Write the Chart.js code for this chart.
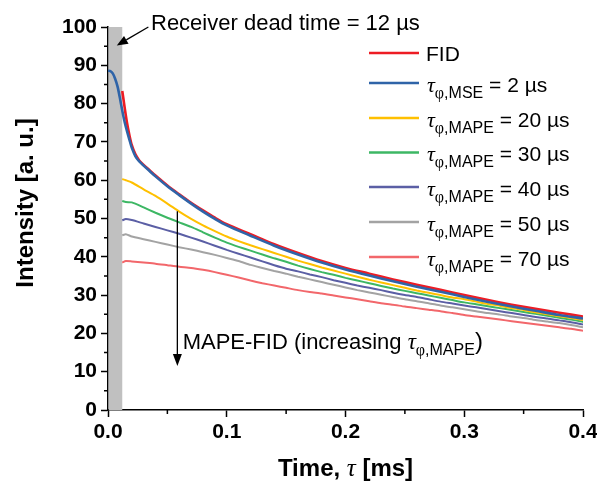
<!DOCTYPE html>
<html><head><meta charset="utf-8">
<script src="https://cdn.jsdelivr.net/npm/chart.js@4/dist/chart.umd.min.js"></script>
<style>html,body{margin:0;padding:0;background:#fff;}canvas{display:block;}</style>
</head><body>
<canvas id="c" width="597" height="485"></canvas>
<script>
// ---------- data ----------
const deadTime = 0.012; // ms, receiver dead time
const xTicks = [0, 0.1, 0.2, 0.3, 0.4];
const yTicks = [0, 10, 20, 30, 40, 50, 60, 70, 80, 90, 100];

const tFID = [0.012,0.013,0.014,0.016,0.018,0.02,0.023,0.026,0.028,0.03,0.035,0.04,0.05,0.06,0.07,0.08,0.09,0.1,0.12,0.14,0.16,0.18,0.2,0.22,0.24,0.26,0.28,0.3,0.32,0.34,0.36,0.38,0.4];
const vFID = [83.3,81.2,79.0,75.0,71.8,69.2,66.8,65.3,64.6,64.0,62.6,61.2,58.6,56.3,54.1,52.1,50.2,48.5,45.9,43.3,41.0,38.9,37.1,35.6,34.1,32.7,31.4,30.0,28.7,27.5,26.4,25.4,24.4];

const tMSE = [0,0.002,0.004,0.006,0.008,0.01,0.012,0.014,0.016,0.018,0.02,0.023,0.026,0.028,0.03,0.035,0.04,0.05,0.06,0.07,0.08,0.09,0.1,0.12,0.14,0.16,0.18,0.2,0.22,0.24,0.26,0.28,0.3,0.32,0.34,0.36,0.38,0.4];
const vMSE = [88.6,88.5,87.9,86.5,84.5,81.5,78.2,75.2,72.8,70.6,68.5,66.3,65.0,64.4,63.8,62.4,61.0,58.4,56.1,53.9,51.8,49.9,48.2,45.5,42.9,40.6,38.5,36.7,35.1,33.6,32.2,30.9,29.5,28.2,27.0,25.9,24.8,23.9];

const tMAPE = [0.012,0.015,0.02,0.03,0.04,0.05,0.06,0.07,0.08,0.09,0.1,0.11,0.12,0.13,0.14,0.15,0.16,0.17,0.18,0.19,0.2,0.21,0.22,0.23,0.24,0.25,0.26,0.27,0.28,0.29,0.3,0.31,0.32,0.33,0.34,0.35,0.36,0.37,0.38,0.39,0.4];
const vMAPE20 = [60.3,60.0,59.4,57.6,55.9,53.9,51.8,49.9,48.2,46.7,45.3,44.1,43.0,42.0,41.0,40.0,39.0,38.1,37.2,36.4,35.6,34.8,34.0,33.3,32.6,31.9,31.2,30.6,30.0,29.4,28.9,28.3,27.7,27.2,26.6,26.1,25.5,25.0,24.5,24.0,23.5];
const vMAPE30 = [54.6,54.3,54.2,52.9,51.5,50.2,49.0,47.8,46.4,45.0,43.7,42.6,41.6,40.6,39.6,38.7,37.7,36.8,36.0,35.3,34.5,33.8,33.1,32.4,31.7,31.1,30.5,29.9,29.3,28.7,28.1,27.6,27.1,26.6,26.1,25.6,25.1,24.6,24.1,23.6,23.0];
const vMAPE40 = [49.5,49.9,49.6,48.7,47.8,46.9,46.0,45.0,44.0,42.9,41.8,40.8,39.8,38.8,37.8,36.9,36.2,35.4,34.7,33.9,33.2,32.5,31.9,31.3,30.6,30.0,29.5,28.9,28.3,27.8,27.3,26.8,26.3,25.8,25.3,24.8,24.3,23.9,23.4,22.9,22.3];
const vMAPE50 = [45.6,45.9,45.3,44.6,43.9,43.2,42.5,41.9,41.2,40.5,39.7,38.9,37.9,37.1,36.3,35.6,34.8,34.1,33.4,32.7,32.0,31.3,30.7,30.1,29.5,28.9,28.4,27.9,27.3,26.8,26.3,25.8,25.3,24.9,24.4,24.0,23.5,23.1,22.7,22.2,21.6];
const vMAPE70 = [38.5,38.9,38.8,38.5,38.2,37.8,37.4,37.1,36.6,36.0,35.3,34.6,33.8,33.1,32.5,31.9,31.3,30.8,30.4,29.9,29.4,28.9,28.4,27.9,27.5,27.0,26.6,26.2,25.8,25.3,24.8,24.4,24.0,23.6,23.2,22.8,22.4,22.0,21.6,21.2,20.7];

const legendNames = ['FID', null, null, null, null, null, null];
const legendSubs  = [null, 'MSE', 'MAPE', 'MAPE', 'MAPE', 'MAPE', 'MAPE'];
const legendVals  = [null, '2 µs', '20 µs', '30 µs', '40 µs', '50 µs', '70 µs'];

// ---------- styling ----------
const SANS = '"Liberation Sans", Arial, sans-serif';
const SERIF = '"Liberation Serif", "Times New Roman", serif';
const pts = (t, v) => t.map((x, i) => ({x, y: v[i]}));

const datasets = [
  {data: pts(tFID, vFID), borderColor: '#ed1c24', borderWidth: 2.6, tension: 0.3, order: 1},
  {data: pts(tMSE, vMSE), borderColor: '#2f64a8', borderWidth: 2.6, tension: 0.3, order: 0},
  {data: pts(tMAPE, vMAPE20), borderColor: '#ffc000', borderWidth: 2, tension: 0.2, order: 2},
  {data: pts(tMAPE, vMAPE30), borderColor: '#3db764', borderWidth: 2, tension: 0.2, order: 3},
  {data: pts(tMAPE, vMAPE40), borderColor: '#5b5fa5', borderWidth: 2, tension: 0.2, order: 4},
  {data: pts(tMAPE, vMAPE50), borderColor: '#a3a3a3', borderWidth: 2, tension: 0.2, order: 5},
  {data: pts(tMAPE, vMAPE70), borderColor: '#f2676b', borderWidth: 2, tension: 0.2, order: 6}
].map(d => Object.assign({pointRadius: 0, fill: false}, d));

function rich(ctx, parts, x, y) {
  for (const p of parts) {
    ctx.font = p.font;
    ctx.fillText(p.text, x, y + (p.dy || 0));
    x += ctx.measureText(p.text).width;
  }
  return x;
}
function richWidth(ctx, parts) {
  let w = 0;
  for (const p of parts) { ctx.font = p.font; w += ctx.measureText(p.text).width; }
  return w;
}
function tauParts(sub, size, subSize, dy) {
  return [
    {text: 'τ', font: `italic ${size + 1}px ${SERIF}`},
    {text: 'φ', font: `${subSize}px ${SERIF}`, dy},
    {text: ',' + sub, font: `${subSize}px ${SANS}`, dy}
  ];
}
function arrow(ctx, x1, y1, x2, y2, len, half) {
  const a = Math.atan2(y2 - y1, x2 - x1);
  const bx = x2 - len * Math.cos(a), by = y2 - len * Math.sin(a);
  ctx.beginPath(); ctx.moveTo(x1, y1); ctx.lineTo(bx, by); ctx.stroke();
  ctx.beginPath();
  ctx.moveTo(x2, y2);
  ctx.lineTo(bx + half * Math.sin(a), by - half * Math.cos(a));
  ctx.lineTo(bx - half * Math.sin(a), by + half * Math.cos(a));
  ctx.closePath(); ctx.fill();
}

const deco = {
  id: 'deco',
  beforeDatasetsDraw(chart) {
    const {ctx, chartArea: a, scales: {x}} = chart;
    const x0 = x.getPixelForValue(0) + 0.75, x1 = x.getPixelForValue(deadTime);
    ctx.save();
    ctx.fillStyle = '#c0c0c0';
    ctx.fillRect(x0, a.top, x1 - x0, a.bottom - a.top);
    ctx.restore();
  },
  afterDraw(chart) {
    const {ctx, chartArea: a, scales: {x, y}} = chart;
    ctx.save();
    ctx.strokeStyle = '#000'; ctx.fillStyle = '#000'; ctx.lineWidth = 1.5;
    // minor ticks
    ctx.beginPath();
    for (let v = 5; v < 100; v += 10) { const p = y.getPixelForValue(v); ctx.moveTo(a.left, p); ctx.lineTo(a.left - 4, p); }
    for (let v = 0.05; v < 0.4; v += 0.1) { const p = x.getPixelForValue(v); ctx.moveTo(p, a.bottom); ctx.lineTo(p, a.bottom + 4); }
    ctx.stroke();

    // receiver dead time annotation
    ctx.lineWidth = 1.3;
    arrow(ctx, x.getPixelForValue(0.034), y.getPixelForValue(100), x.getPixelForValue(0.0074), y.getPixelForValue(95.2), 11, 4.5);
    ctx.textBaseline = 'alphabetic'; ctx.textAlign = 'left';
    ctx.font = `22px ${SANS}`;
    ctx.fillText('Receiver dead time = 12 µs', x.getPixelForValue(0.0362), y.getPixelForValue(99.2));

    // MAPE-FID arrow + text
    arrow(ctx, x.getPixelForValue(0.0584), y.getPixelForValue(51.9), x.getPixelForValue(0.0584), y.getPixelForValue(11.5), 12, 4.5);
    const ax = x.getPixelForValue(0.0629), ay = y.getPixelForValue(16.0);
    rich(ctx, [{text: 'MAPE-FID (increasing ', font: `22px ${SANS}`}]
      .concat(tauParts('MAPE', 22, 16, 6))
      .concat([{text: ')', font: `24px ${SANS}`}]), ax, ay);

    // legend
    const rowY = [53, 83, 118, 152.5, 187, 222, 257];
    datasets.forEach((d, i) => {
      const ly = rowY[i];
      ctx.strokeStyle = d.borderColor; ctx.lineWidth = 2.5;
      ctx.beginPath(); ctx.moveTo(369, ly); ctx.lineTo(419, ly); ctx.stroke();
      ctx.fillStyle = '#000';
      if (legendNames[i]) {
        rich(ctx, [{text: legendNames[i], font: `21px ${SANS}`}], 426, ly + 7.5);
      } else {
        rich(ctx, tauParts(legendSubs[i], 21, 16, 6).concat([{text: ' = ' + legendVals[i], font: `21px ${SANS}`}]), 427, ly + 8.5);
      }
    });

    // axis titles
    ctx.fillStyle = '#000';
    const xt = [{text: 'Time, ', font: `bold 24px ${SANS}`}, {text: 'τ', font: `italic 25px ${SERIF}`}, {text: ' [ms]', font: `bold 24px ${SANS}`}];
    const w = richWidth(ctx, xt);
    rich(ctx, xt, (a.left + a.right) / 2 - w / 2, 476);
    ctx.translate(26, 203);
    ctx.rotate(-Math.PI / 2);
    ctx.textAlign = 'center'; ctx.textBaseline = 'middle';
    ctx.font = `bold 24px ${SANS}`;
    ctx.fillText('Intensity [a. u.]', 0, 0);
    ctx.restore();
  }
};

const tickFont = {family: SANS, size: 21, weight: 'bold'};
new Chart(document.getElementById('c'), {
  type: 'line',
  data: {datasets},
  options: {
    responsive: false, animation: false, devicePixelRatio: 1,
    layout: {padding: {top: 27, right: 14, left: 0, bottom: 0}},
    plugins: {legend: {display: false}, tooltip: {enabled: false}},
    scales: {
      x: {
        type: 'linear', min: xTicks[0], max: xTicks[xTicks.length - 1],
        afterFit(s) { s.height = 75; s.paddingLeft = 0; s.paddingRight = 0; },
        afterBuildTicks(s) { s.ticks = xTicks.map(v => ({value: v})); },
        ticks: {callback: v => v.toFixed(1), font: tickFont, color: '#000', padding: 3, maxRotation: 0, autoSkip: false},
        grid: {display: true, drawOnChartArea: false, drawTicks: true, tickLength: 7, tickColor: '#000', tickWidth: 1.5},
        border: {display: true, color: '#000', width: 1.5}
      },
      y: {
        min: yTicks[0], max: yTicks[yTicks.length - 1],
        afterFit(s) { s.width = 108; s.paddingTop = 0; s.paddingBottom = 0; },
        afterBuildTicks(s) { s.ticks = yTicks.map(v => ({value: v})); },
        ticks: {font: tickFont, color: '#000', padding: 4, autoSkip: false},
        grid: {display: true, drawOnChartArea: false, drawTicks: true, tickLength: 7, tickColor: '#000', tickWidth: 1.5},
        border: {display: true, color: '#000', width: 1.5}
      }
    }
  },
  plugins: [deco]
});
</script>
</body></html>
